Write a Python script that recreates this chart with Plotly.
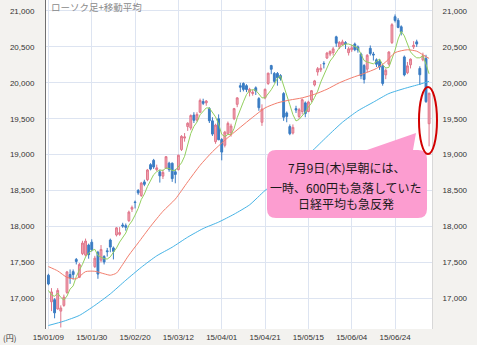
import plotly.graph_objects as go
import pandas as pd

# ---------------- data ----------------
days = [
    "15/01/09", "15/01/13", "15/01/14", "15/01/15", "15/01/16", "15/01/19", "15/01/20", "15/01/21",
    "15/01/22", "15/01/23", "15/01/26", "15/01/27", "15/01/28", "15/01/29", "15/01/30",
    "15/02/02", "15/02/03", "15/02/04", "15/02/05", "15/02/06", "15/02/09", "15/02/10", "15/02/12",
    "15/02/13", "15/02/16", "15/02/17", "15/02/18", "15/02/19", "15/02/20", "15/02/23", "15/02/24",
    "15/02/25", "15/02/26", "15/02/27",
    "15/03/02", "15/03/03", "15/03/04", "15/03/05", "15/03/06", "15/03/09", "15/03/10", "15/03/11",
    "15/03/12", "15/03/13", "15/03/16", "15/03/17", "15/03/18", "15/03/19", "15/03/20", "15/03/23",
    "15/03/24", "15/03/25", "15/03/26", "15/03/27", "15/03/30", "15/03/31",
    "15/04/01", "15/04/02", "15/04/03", "15/04/06", "15/04/07", "15/04/08", "15/04/09", "15/04/10",
    "15/04/13", "15/04/14", "15/04/15", "15/04/16", "15/04/17", "15/04/20", "15/04/21", "15/04/22",
    "15/04/23", "15/04/24", "15/04/27", "15/04/28", "15/04/30",
    "15/05/01", "15/05/07", "15/05/08", "15/05/11", "15/05/12", "15/05/13", "15/05/14", "15/05/15",
    "15/05/18", "15/05/19", "15/05/20", "15/05/21", "15/05/22", "15/05/25", "15/05/26", "15/05/27",
    "15/05/28", "15/05/29",
    "15/06/01", "15/06/02", "15/06/03", "15/06/04", "15/06/05", "15/06/08", "15/06/09", "15/06/10",
    "15/06/11", "15/06/12", "15/06/15", "15/06/16", "15/06/17", "15/06/18", "15/06/19", "15/06/22",
    "15/06/23", "15/06/24", "15/06/25", "15/06/26", "15/06/29", "15/06/30",
    "15/07/01", "15/07/02", "15/07/03", "15/07/06", "15/07/07", "15/07/08", "15/07/09",
]

opens = [
    17320, 16950, 16980, 16850, 16820, 16900, 17080, 17330, 17370, 17540, 17290, 17620, 17600, 17740, 17780,
    17440, 17640, 17530, 17580, 17660, 17810, 17700, 17880, 17890, 18020, 18010, 18080, 18240, 18340, 18500,
    18430, 18620, 18650, 18860,
    18920, 18790, 18760, 18700, 18810, 18880, 18880, 18760, 18790, 19070, 19230, 19390, 19370, 19550, 19480,
    19590, 19740, 19720, 19640, 19470, 19180, 19500,
    19210, 19130, 19290, 19300, 19500, 19700, 19960, 19990, 19960, 19870, 19850, 19930, 19780, 19450, 19790,
    19990, 20240, 20130, 20130, 20100, 19850,
    19580, 19390, 19300, 19640, 19530, 19600, 19720, 19600, 19760, 19970, 20150, 20180, 20270, 20345, 20400,
    20420, 20640, 20500,
    20530, 20560, 20420, 20460, 20540, 20500, 20400, 20240, 20190, 20480, 20400, 20320, 20300, 20230, 20110,
    20260, 20560, 20920, 20870, 20780, 20360, 20140,
    20250, 20500, 20570, 20200, 20320, 20340, 19430,
]
highs = [
    17340, 17140, 17000, 17140, 16900, 17050, 17380, 17400, 17400, 17560, 17490, 17800, 17830, 17760, 17820,
    17590, 17660, 17740, 17600, 17700, 17830, 17720, 17990, 17990, 18050, 18040, 18220, 18290, 18360, 18520,
    18620, 18650, 18800, 18880,
    18940, 18860, 18790, 18790, 18980, 18900, 18890, 18800, 19000, 19270, 19300, 19450, 19560, 19590, 19590,
    19780, 19778, 19760, 19660, 19520, 19430, 19560,
    19230, 19330, 19460, 19430, 19650, 19800, 20000, 20006, 19980, 19930, 19900, 19950, 19800, 19700, 19920,
    20140, 20250, 20150, 20150, 20120, 19870,
    19600, 19420, 19420, 19680, 19650, 19780, 19740, 19750, 19900, 20040, 20220, 20260, 20300, 20430, 20450,
    20500, 20655, 20580,
    20600, 20580, 20500, 20530, 20560, 20520, 20420, 20260, 20400, 20520, 20430, 20340, 20330, 20250, 20200,
    20440, 20830, 20952, 20900, 20800, 20380, 20290,
    20340, 20580, 20600, 20230, 20420, 20390, 19860,
]
lows = [
    17180, 16820, 16720, 16840, 16592, 16880, 17060, 17200, 17260, 17470, 17280, 17600, 17580, 17550, 17650,
    17420, 17270, 17500, 17470, 17580, 17640, 17540, 17860, 17870, 17980, 17940, 18060, 18200, 18250, 18440,
    18410, 18560, 18630, 18780,
    18800, 18770, 18610, 18660, 18800, 18760, 18620, 18600, 18780, 19050, 19180, 19330, 19340, 19440, 19460,
    19580, 19690, 19680, 19440, 19260, 19150, 19200,
    18920, 19100, 19280, 19250, 19480, 19660, 19870, 19880, 19870, 19810, 19820, 19830, 19610, 19400, 19770,
    19970, 20120, 20000, 19960, 20030, 19470,
    19450, 19270, 19280, 19580, 19500, 19560, 19520, 19590, 19730, 19950, 20100, 20150, 20200, 20330, 20370,
    20380, 20500, 20470,
    20520, 20470, 20380, 20430, 20440, 20420, 20050, 19990, 20150, 20380, 20310, 20220, 20180, 19960, 20050,
    20240, 20540, 20840, 20760, 20660, 20090, 20120,
    20200, 20470, 20500, 19970, 20300, 19720, 19115,
]
closes = [
    17197.73, 17087.71, 16795.96, 17108.70, 16864.16, 17014.29, 17366.30, 17280.48, 17329.02, 17511.75,
    17468.52, 17768.30, 17795.73, 17606.22, 17674.39,
    17558.04, 17335.85, 17678.74, 17504.62, 17648.50, 17711.93, 17652.68, 17979.72, 17913.36, 18004.77,
    17987.09, 18199.17, 18264.79, 18332.30, 18466.92, 18603.48, 18585.20, 18785.79, 18797.94,
    18826.62, 18815.16, 18703.60, 18751.84, 18971.00, 18790.55, 18665.11, 18723.52, 18991.11, 19254.25,
    19246.06, 19437.00, 19544.48, 19476.56, 19560.22, 19754.36, 19713.45, 19746.20, 19471.12, 19285.63,
    19411.40, 19206.99,
    19034.84, 19312.79, 19435.08, 19397.98, 19640.54, 19789.81, 19937.72, 19907.63, 19905.46, 19908.68,
    19869.76, 19885.77, 19652.88, 19634.49, 19909.09, 20133.90, 20187.65, 20020.04, 20069.99, 20058.95,
    19520.01,
    19531.63, 19291.99, 19379.19, 19620.91, 19624.84, 19764.72, 19570.24, 19732.92, 19890.27, 20026.38,
    20196.56, 20202.87, 20264.41, 20413.77, 20437.48, 20472.58, 20551.46, 20563.15,
    20569.87, 20543.19, 20473.51, 20488.19, 20460.90, 20457.19, 20096.30, 20046.36, 20382.97, 20407.08,
    20387.79, 20257.94, 20219.27, 19990.82, 20174.24, 20428.19, 20809.42, 20868.03, 20771.40, 20706.15,
    20109.95, 20235.73,
    20329.32, 20522.83, 20539.79, 20112.12, 20376.59, 19737.64, 19855.50,
]
# closes of the four sessions before the first candle (for the 5-day average)
prior_closes = [17408.71, 16883.19, 16885.33, 17167.10]

# 25-day and 75-day moving averages at selected sessions
ma25_idx = [0, 3, 6, 9, 12, 15, 18, 20, 22, 24, 26, 29, 33, 37, 41, 45, 49, 53, 57, 62, 66, 70,
            74, 78, 82, 86, 90, 94, 98, 102, 106, 109, 112, 116, 119, 121, 123]
ma25_val = [17440, 17380, 17290, 17270, 17370, 17375, 17340, 17320, 17350, 17470, 17600, 17770,
            18000, 18210, 18380, 18620, 18850, 19040, 19200, 19380, 19520, 19650, 19720, 19760,
            19790, 19840, 19910, 20000, 20070, 20130, 20200, 20290, 20420, 20460, 20440, 20390, 20340]
ma75_idx = [0, 5, 10, 15, 20, 25, 30, 35, 40, 45, 50, 55, 60, 65, 70, 75, 80, 85, 90, 95, 100,
            105, 110, 115, 120, 123]
ma75_val = [16620, 16680, 16760, 16900, 17060, 17250, 17430, 17590, 17710, 17850, 17970, 18060,
            18170, 18300, 18500, 18660, 18840, 19040, 19250, 19450, 19610, 19730, 19850, 19920,
            19980, 20020]

y_ticks = [17000, 17500, 18000, 18500, 19000, 19500, 20000, 20500, 21000]
x_tick_days = days[::14]

title_text = "ローソク足+移動平均"
callout_lines = ["7月9日(木)早朝には、", "一時、600円も急落していた", "日経平均も急反発"]
unit_text = "(円)"

# ---------------- figure ----------------
W, H = 477, 345
ML, MR, MT, MB = 46, 45, 0, 16
PW, PH = W - ML - MR, H - MT - MB


def fx(p):
    return (p - ML) / PW


def fy(p):
    return (H - MB - p) / PH


ma5 = pd.Series(prior_closes + closes).rolling(5).mean().iloc[len(prior_closes):].tolist()

fig = go.Figure()
fig.add_trace(go.Candlestick(
    x=days, open=opens, high=highs, low=lows, close=closes,
    increasing=dict(fillcolor="#f2a7b4", line=dict(color="#e0768a", width=1)),
    decreasing=dict(fillcolor="#3a7cc3", line=dict(color="#3a7cc3", width=1)),
    whiskerwidth=0, showlegend=False, hoverinfo="skip",
))
fig.add_trace(go.Scatter(x=days, y=ma5, mode="lines", line=dict(color="#93cf5e", width=1),
                         showlegend=False, hoverinfo="skip"))
fig.add_trace(go.Scatter(x=[days[i] for i in ma25_idx], y=ma25_val, mode="lines",
                         line=dict(color="#f27d6c", width=1, shape="spline", smoothing=0.6),
                         showlegend=False, hoverinfo="skip"))
fig.add_trace(go.Scatter(x=[days[i] for i in ma75_idx], y=ma75_val, mode="lines",
                         line=dict(color="#45b3e6", width=1, shape="spline", smoothing=0.6),
                         showlegend=False, hoverinfo="skip"))
# carrier for the right-hand price axis
fig.add_trace(go.Scatter(x=days, y=closes, yaxis="y2", mode="lines", opacity=0,
                         line=dict(width=0), showlegend=False, hoverinfo="skip"))

yr = [16571, 21153]
tick_font = dict(family="Liberation Sans, Arial, sans-serif", size=8, color="#333333")
fig.update_layout(
    width=W, height=H,
    margin=dict(l=ML, r=MR, t=MT, b=MB, pad=0),
    paper_bgcolor="#f3f2ef", plot_bgcolor="#ffffff",
    boxgap=0.15,
    xaxis=dict(type="category", range=[-0.78, 123.94], tickvals=x_tick_days, ticktext=x_tick_days,
               showgrid=True, gridcolor="#dde4f1", gridwidth=1, zeroline=False,
               rangeslider=dict(visible=False), ticks="", tickfont=tick_font,
               showline=False, ticklabelstandoff=2),
    yaxis=dict(range=yr, tickvals=y_ticks, tickformat=",d", showgrid=True, gridcolor="#dde4f1",
               gridwidth=1, zeroline=False, showline=True, linecolor="#6f6f6f", linewidth=1,
               ticks="", tickfont=tick_font, ticklabelstandoff=9),
    yaxis2=dict(range=yr, tickvals=y_ticks, tickformat=",d", overlaying="y", side="right",
                showgrid=False, zeroline=False, showline=True, linecolor="#d8d8d8", linewidth=1,
                ticks="", tickfont=tick_font, ticklabelstandoff=8),
    font=dict(family="Liberation Sans, Arial, sans-serif"),
)

# callout box with pointer (decoration, pixel geometry)
x0, x1, y0, y1, r = 267, 427, 150, 218, 9
xa, xb, tipx, tipy = 367, 413, 416, 133
pts = [("M", [(x0 + r, y0)]), ("L", [(xa, y0)]), ("L", [(tipx, tipy)]), ("L", [(xb, y0)]),
       ("L", [(x1 - r, y0)]), ("Q", [(x1, y0), (x1, y0 + r)]), ("L", [(x1, y1 - r)]),
       ("Q", [(x1, y1), (x1 - r, y1)]), ("L", [(x0 + r, y1)]), ("Q", [(x0, y1), (x0, y1 - r)]),
       ("L", [(x0, y0 + r)]), ("Q", [(x0, y0), (x0 + r, y0)])]
path = " ".join(c + " " + " ".join(f"{fx(a):.5f},{fy(b):.5f}" for a, b in p) for c, p in pts) + " Z"
fig.add_shape(type="path", path=path, xref="paper", yref="paper",
              fillcolor="#fc9dd0", line=dict(width=0), layer="above")
# red ellipse around the last session
fig.add_shape(type="circle", xref="paper", yref="paper",
              x0=fx(419), x1=fx(437), y0=fy(154), y1=fy(87),
              line=dict(color="#d20000", width=2), fillcolor="rgba(0,0,0,0)", layer="above")

for t, yy in zip(callout_lines, [167.5, 187, 203]):
    fig.add_annotation(text=t, xref="paper", yref="paper", x=fx(346), y=fy(yy),
                       xanchor="center", yanchor="middle", showarrow=False,
                       font=dict(family="Noto Sans CJK JP", size=12, color="#1a1a1a"))

fig.add_annotation(text=title_text, xref="paper", yref="paper", x=fx(49), y=fy(7.5),
                   xanchor="left", yanchor="middle", showarrow=False,
                   font=dict(family="Noto Sans CJK JP", size=9.5, color="#8a8a8a"))
fig.add_annotation(text=unit_text, xref="paper", yref="paper", x=fx(1), y=fy(337),
                   xanchor="left", yanchor="middle", showarrow=False,
                   font=dict(family="Noto Sans CJK JP", size=8, color="#333333"))

fig.write_html("out.html")
